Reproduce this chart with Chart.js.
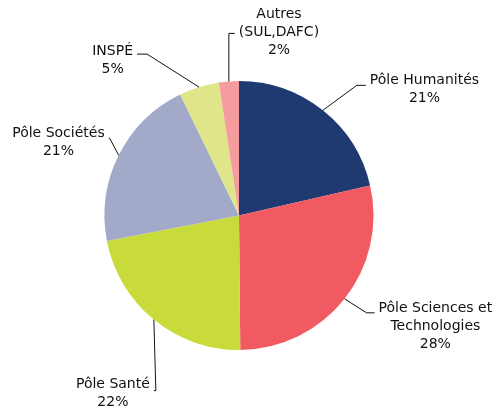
<!DOCTYPE html>
<html>
<head>
<meta charset="utf-8">
<script src="https://cdn.jsdelivr.net/npm/chart.js@4/dist/chart.umd.min.js"></script>
<style>
  html, body { margin: 0; padding: 0; background: #fff; }
  #wrap { width: 497px; height: 407px; }
</style>
</head>
<body>
<div id="wrap"><canvas id="chart" width="497" height="407"></canvas></div>
<script>
const categories = [
  ["Pôle Humanités"],
  ["Pôle Sciences et", "Technologies"],
  ["Pôle Santé"],
  ["Pôle Sociétés"],
  ["INSPÉ"],
  ["Autres", "(SUL,DAFC)"],
];
const shares = [21.4, 28.4, 22.1, 20.8, 4.8, 2.4];
const colors = ["#1f3a70", "#f15a60", "#c9da3b", "#a3aac9", "#dfe68a", "#f59c9f"];

// leader line: elbow offset from slice edge, horizontal tail, first text line offset
const leaders = [
  { ex: 34, ey: -25, h: 9, ty: -5 },
  { ex: 22, ey: 14, h: 8, ty: -4 },
  { ex: 2, ey: 71, h: -2, ty: -6 },
  { ex: -9, ey: -17, h: -1, ty: -5 },
  { ex: -52, ey: -33, h: -10, ty: -3 },
  { ex: 0, ey: -48, h: 6, ty: -19 },
];

const labelPlugin = {
  id: "leaderLabels",
  afterDatasetsDraw(chart) {
    const ctx = chart.ctx;
    const meta = chart.getDatasetMeta(0);
    const total = shares.reduce((a, b) => a + b, 0);
    ctx.save();
    ctx.font = "14px 'DejaVu Sans'";
    ctx.fillStyle = "#111";
    ctx.strokeStyle = "#111";
    ctx.lineWidth = 1;
    ctx.textAlign = "center";
    ctx.textBaseline = "middle";
    meta.data.forEach((arc, i) => {
      const a = (arc.startAngle + arc.endAngle) / 2;
      const px = arc.x + Math.cos(a) * arc.outerRadius;
      const py = arc.y + Math.sin(a) * arc.outerRadius;
      const l = leaders[i];
      const bx = px + l.ex, by = py + l.ey;
      const endX = bx + l.h;
      ctx.beginPath();
      ctx.moveTo(px, py);
      ctx.lineTo(bx, by);
      ctx.lineTo(endX, by);
      ctx.stroke();
      const lines = categories[i].concat([Math.round((shares[i] / total) * 100) + "%"]);
      const w = Math.max(...lines.map((s) => ctx.measureText(s).width));
      const cx = l.h >= 0 ? endX + 4 + w / 2 : endX - 4 - w / 2;
      lines.forEach((s, k) => ctx.fillText(s, cx, by + l.ty + k * 18));
    });
    ctx.restore();
  },
};

new Chart(document.getElementById("chart"), {
  type: "pie",
  data: {
    labels: categories,
    datasets: [{ data: shares, backgroundColor: colors, borderWidth: 0 }],
  },
  options: {
    responsive: false,
    animation: false,
    layout: { padding: { top: 81, bottom: 57, left: 104, right: 123 } },
    plugins: { legend: { display: false }, tooltip: { enabled: false } },
  },
  plugins: [labelPlugin],
});
</script>
</body>
</html>
